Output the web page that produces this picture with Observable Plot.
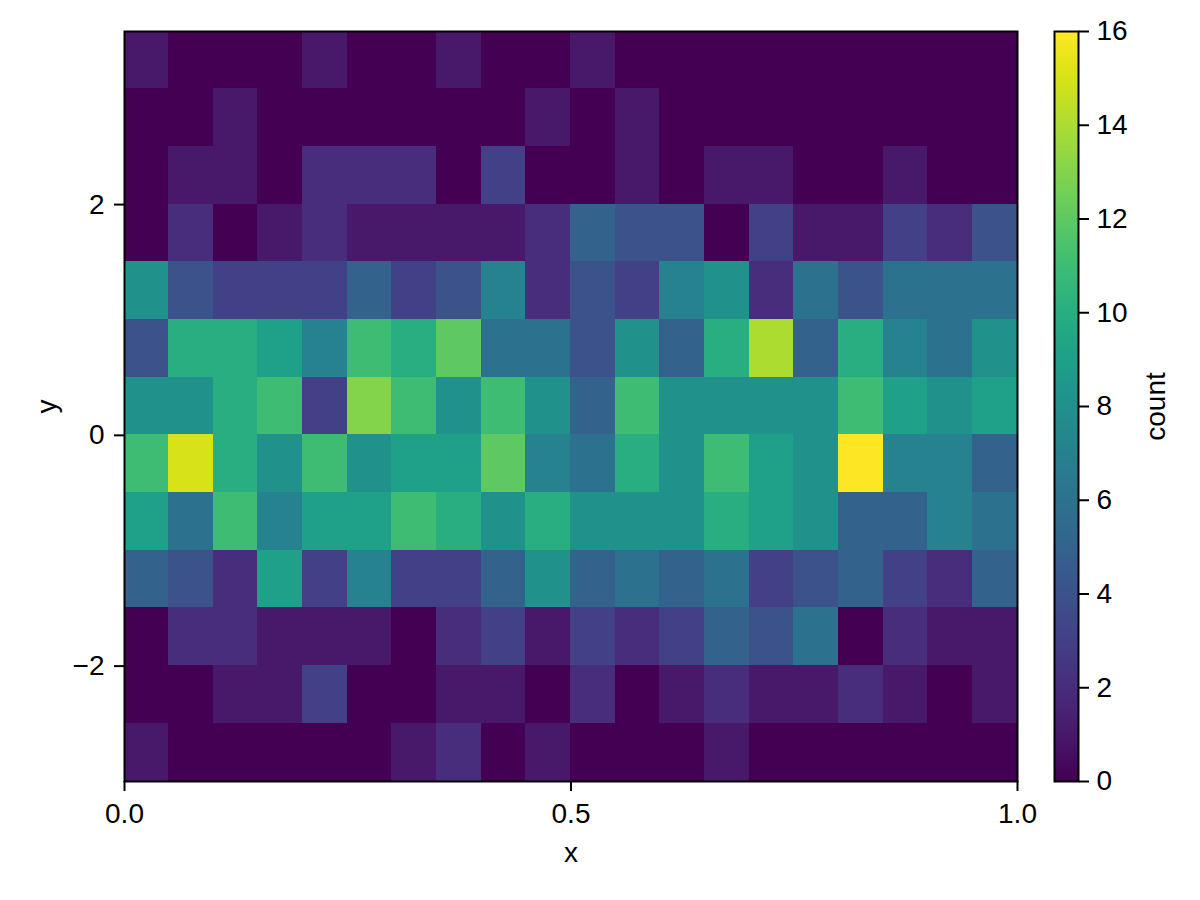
<!DOCTYPE html>
<html><head><meta charset="utf-8">
<script src="https://cdn.jsdelivr.net/npm/d3@7"></script>
<script src="https://cdn.jsdelivr.net/npm/@observablehq/plot@0.6"></script>
<style>
body{margin:0;background:#fff;}
#wrap{position:relative;width:1200px;height:900px;background:#fff;}
#wrap svg{position:absolute;left:0;top:0;overflow:visible;}
</style></head><body><div id="wrap"></div>
<script>
// Bin edges
const xEdges = [0,0.05,0.1,0.15,0.2,0.25,0.3,0.35,0.4,0.45,0.5,0.55,0.6,0.65,0.7,0.75,0.8,0.85,0.9,0.95,1];
const yEdges = [-3,-2.5,-2,-1.5,-1,-0.5,0,0.5,1,1.5,2,2.5,3,3.5];
// Counts, rows from top (y 3.0–3.5) to bottom (y −3.0–−2.5)
const counts = [
  [1,0,0,0,1,0,0,1,0,0, 1,0,0,0,0,0,0,0,0,0],
  [0,0,1,0,0,0,0,0,0,1, 0,1,0,0,0,0,0,0,0,0],
  [0,1,1,0,2,2,2,0,3,0, 0,1,0,1,1,0,0,1,0,0],
  [0,2,0,1,2,1,1,1,1,2, 5,4,4,0,3,1,1,3,2,4],
  [8,4,3,3,3,5,3,4,7,2, 4,3,7,8,2,6,4,6,6,6],
  [4,10,10,9,7,11,10,12,6,6, 4,8,5,10,14,5,10,7,6,8],
  [8,8,10,11,3,13,11,8,11,8, 5,11,8,8,8,8,11,9,8,9],
  [11,15,10,8,11,8,9,9,12,7, 6,10,8,11,9,8,16,7,7,5],
  [9,6,11,7,9,9,11,10,8,10, 8,8,8,10,9,8,5,5,7,6],
  [5,4,2,9,3,7,3,3,5,8, 5,6,5,6,3,4,5,3,2,5],
  [0,2,2,1,1,1,0,2,3,1, 3,2,3,5,4,6,0,2,1,1],
  [0,0,1,1,3,0,0,1,1,0, 2,0,1,2,1,1,2,1,0,1],
  [1,0,0,0,0,0,1,2,0,1, 0,0,0,1,0,0,0,0,0,0]
];
const xTicks = [0, 0.5, 1];
const yTicks = [-2, 0, 2];
const cTicks = [0, 2, 4, 6, 8, 10, 12, 14, 16];
const cDomain = [0, 16];

const cells = [];
counts.forEach((row, r) => {
  const yi = yEdges.length - 2 - r;
  row.forEach((c, i) => cells.push({x1: xEdges[i], x2: xEdges[i+1], y1: yEdges[yi], y2: yEdges[yi+1], count: c}));
});

const FS = 28;
const font = "'Liberation Sans', Arial, Helvetica, sans-serif";
const style = {fontFamily: font, fontSize: FS + "px", background: "transparent", color: "black"};

const main = Plot.plot({
  width: 1200, height: 900,
  marginLeft: 124, marginRight: 183, marginTop: 31, marginBottom: 119,
  style,
  x: {domain: [0, 1]},
  y: {domain: [-3, 3.5]},
  color: {type: "linear", scheme: "viridis", domain: cDomain},
  marks: [
    Plot.rect(cells, {x1: "x1", x2: "x2", y1: "y1", y2: "y2", fill: "count", stroke: "count", strokeWidth: 1, shapeRendering: "crispEdges"}),
    Plot.frame({stroke: "black", strokeWidth: 2}),
    Plot.axisX(xTicks, {tickSize: 10, tickPadding: 12, strokeWidth: 2, tickFormat: d3.format(".1f"), label: null, fontSize: FS}),
    Plot.axisY(yTicks, {tickSize: 10, tickPadding: 10, strokeWidth: 2, tickFormat: d3.format("d"), label: null, fontSize: FS}),
    Plot.text(["x"], {text: d => d, frameAnchor: "bottom", lineAnchor: "middle", textAnchor: "middle", dy: 72, fontSize: FS}),
    Plot.text(["y"], {text: d => d, frameAnchor: "left", lineAnchor: "middle", textAnchor: "middle", dx: -77, rotate: -90, fontSize: FS})
  ]
});

const step = 0.05;
const slices = d3.range(cDomain[0], cDomain[1], step);
const cbar = Plot.plot({
  width: 1200, height: 900,
  marginLeft: 1054, marginRight: 122, marginTop: 31, marginBottom: 119,
  style,
  x: {domain: [0, 1], axis: null},
  y: {domain: cDomain, axis: null},
  color: {type: "linear", scheme: "viridis", domain: cDomain},
  marks: [
    Plot.rect(slices, {x1: 0, x2: 1, y1: d => d, y2: d => d + step, fill: d => d + step / 2, stroke: d => d + step / 2, strokeWidth: 1, shapeRendering: "crispEdges"}),
    Plot.frame({stroke: "black", strokeWidth: 2}),
    Plot.axisY(cTicks, {anchor: "right", tickSize: 10, tickPadding: 8, strokeWidth: 2, tickFormat: d3.format("d"), label: null, fontSize: FS}),
    Plot.text(["count"], {text: d => d, frameAnchor: "right", lineAnchor: "middle", textAnchor: "middle", dx: 78, rotate: -90, fontSize: FS})
  ]
});

const wrap = document.getElementById("wrap");
wrap.appendChild(main);
wrap.appendChild(cbar);
</script></body></html>
